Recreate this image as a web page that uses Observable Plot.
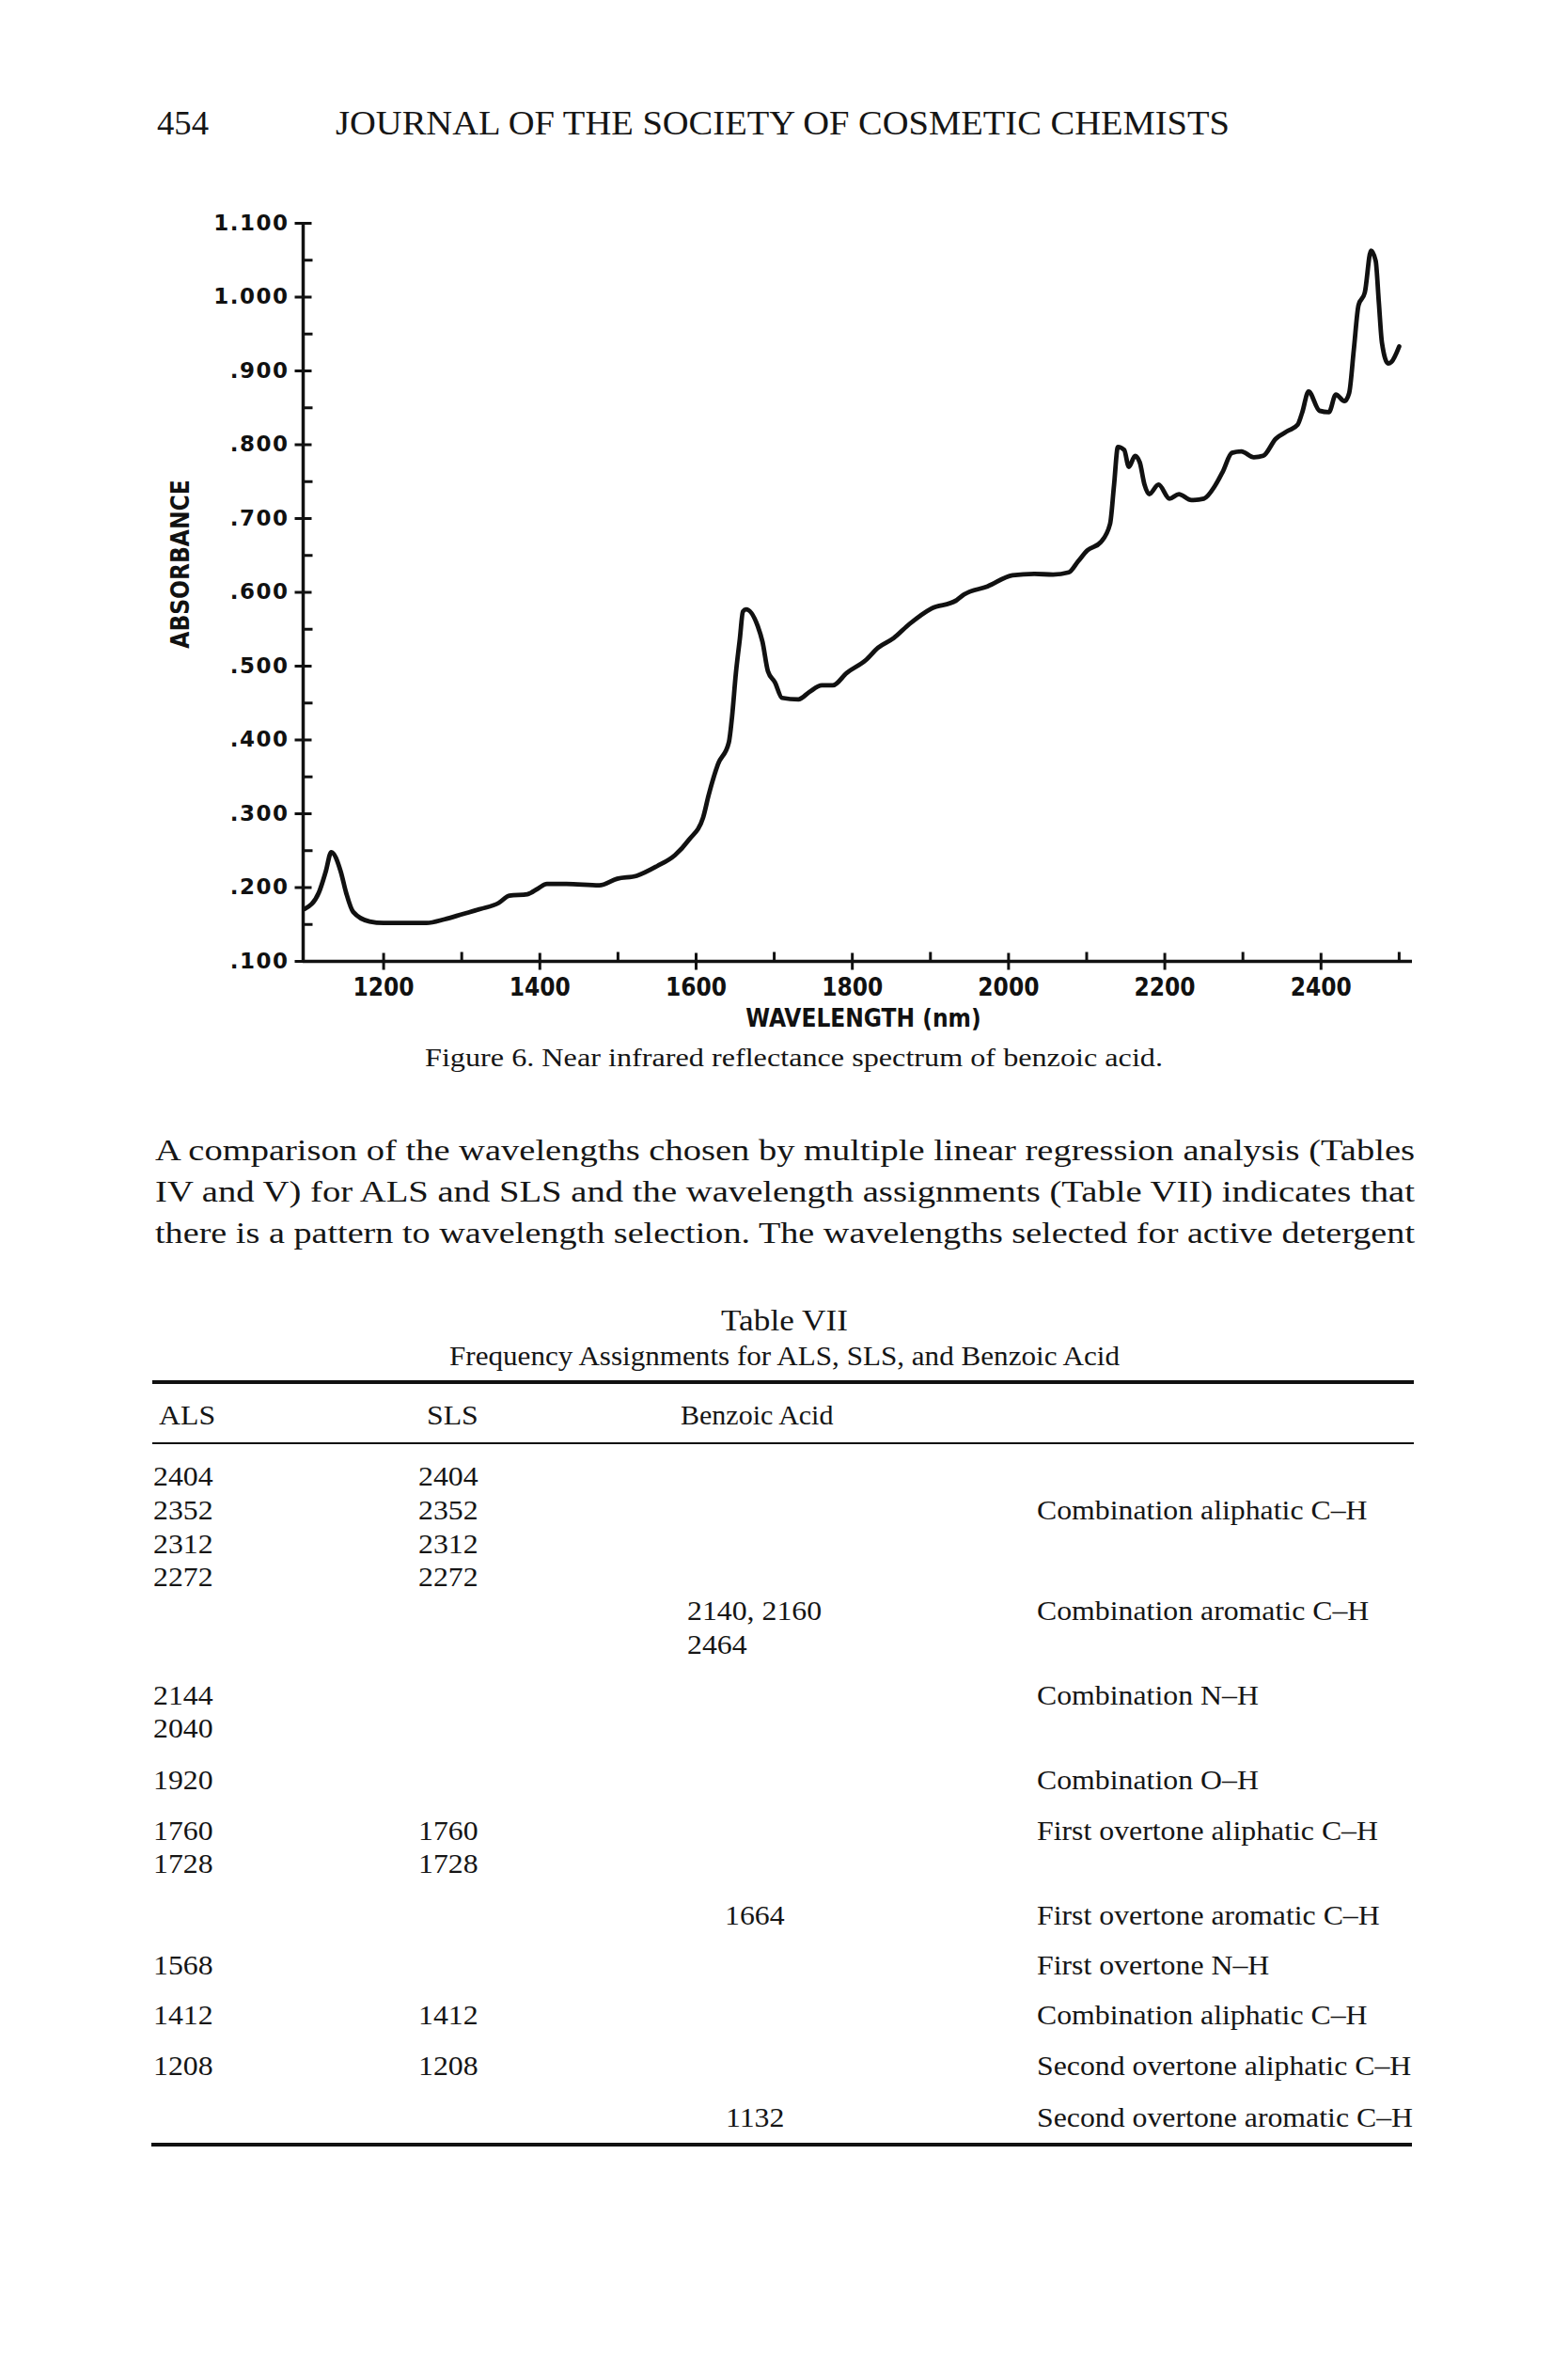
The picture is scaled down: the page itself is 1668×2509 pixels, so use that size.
<!DOCTYPE html>
<html><head><meta charset="utf-8">
<script src="https://cdn.jsdelivr.net/npm/d3@7"></script>
<script src="https://cdn.jsdelivr.net/npm/@observablehq/plot@0.6"></script>
<style>
html,body{margin:0;padding:0;background:#fff;}
#page{position:relative;width:1668px;height:2509px;overflow:hidden;background:#fff;}
.t{position:absolute;white-space:nowrap;font-family:"Liberation Serif","DejaVu Serif",serif;color:#151515;line-height:1;transform-origin:0 0;}
#chart{position:absolute;left:0;top:0;}
.rule{position:absolute;background:#111;}
</style></head><body><div id="page"><div id="chart"></div></div>
<script>
// ---------- chart data (Figure 6) ----------
const wavelength = [1099,1117,1126,1133,1145,1152,1161,1182,1200,1255,1278,1301,1324,1347,1361,1384,1398,1409,1434,1476,1499,1524,1550,1573,1591,1609,1616,1628,1642,1646,1651,1656,1660,1664,1679,1685,1692,1701,1710,1731,1745,1761,1775,1793,1817,1833,1853,1873,1901,1933,1943,1973,2005,2033,2057,2077,2089,2101,2118,2130,2135,2140,2148,2154,2162,2168,2174,2180,2192,2206,2218,2234,2250,2264,2274,2286,2298,2314,2326,2342,2358,2370,2376,2384,2398,2410,2419,2430,2436,2442,2448,2456,2464,2470,2474,2478,2486,2490,2500];
const absorbance = [0.171,0.193,0.222,0.248,0.222,0.193,0.167,0.154,0.152,0.152,0.157,0.164,0.171,0.179,0.189,0.191,0.199,0.205,0.205,0.203,0.212,0.216,0.229,0.244,0.265,0.295,0.325,0.367,0.397,0.431,0.491,0.537,0.574,0.577,0.554,0.533,0.493,0.478,0.457,0.455,0.465,0.474,0.474,0.491,0.508,0.525,0.538,0.557,0.578,0.589,0.597,0.608,0.623,0.625,0.624,0.627,0.642,0.657,0.668,0.693,0.745,0.797,0.793,0.770,0.785,0.776,0.746,0.733,0.746,0.727,0.733,0.725,0.727,0.744,0.763,0.789,0.791,0.783,0.785,0.808,0.819,0.827,0.844,0.872,0.846,0.844,0.868,0.859,0.870,0.929,0.989,1.006,1.063,1.049,0.993,0.938,0.910,0.912,0.933];
const xDomain = [1097, 2517];
const yDomain = [0.1, 1.1];
const xMajorTicks = [1200,1400,1600,1800,2000,2200,2400];
const xMinorTicks = [1300,1500,1700,1900,2100,2300,2500];
const yMajorTicks = [0.1,0.2,0.3,0.4,0.5,0.6,0.7,0.8,0.9,1.0,1.1];
const yTickLabels = [".100",".200",".300",".400",".500",".600",".700",".800",".900","1.000","1.100"];
const yMinorTicks = [0.15,0.25,0.35,0.45,0.55,0.65,0.75,0.85,0.95,1.05];
const xTitle = "WAVELENGTH (nm)";
const yTitle = "ABSORBANCE";

// ---------- page text ----------
const pageNumber = "454";
const runningHead = "JOURNAL OF THE SOCIETY OF COSMETIC CHEMISTS";
const caption = "Figure 6.  Near infrared reflectance spectrum of benzoic acid.";
const bodyLines = [
  "A comparison of the wavelengths chosen by multiple linear regression analysis (Tables",
  "IV and V) for ALS and SLS and the wavelength assignments (Table VII) indicates that",
  "there is a pattern to wavelength selection. The wavelengths selected for active detergent"
];
const tableTitle = "Table VII";
const tableSubtitle = "Frequency Assignments for ALS, SLS, and Benzoic Acid";
const tableHeaders = ["ALS","SLS","Benzoic Acid",""];
const colALS     = ["2404","2352","2312","2272","","","2144","2040","1920","1760","1728","","1568","1412","1208",""];
const colSLS     = ["2404","2352","2312","2272","","","","","","1760","1728","","","1412","1208",""];
const colBenzoic = ["","","","","2140, 2160","2464","","","","","","1664","","","","1132"];
const colAssign  = ["","Combination aliphatic C\u2013H","","","Combination aromatic C\u2013H","","Combination N\u2013H","","Combination O\u2013H","First overtone aliphatic C\u2013H","","First overtone aromatic C\u2013H","First overtone N\u2013H","Combination aliphatic C\u2013H","Second overtone aliphatic C\u2013H","Second overtone aromatic C\u2013H"];

// ---------- chart ----------
const spectrum = wavelength.map((w,i)=>({wavelength:w, absorbance:absorbance[i]}));
const tickBoth = {draw(c){c.moveTo(-9,0);c.lineTo(9,0);}};
const tickRight = {draw(c){c.moveTo(0,0);c.lineTo(10,0);}};
const tickVBoth = {draw(c){c.moveTo(0,-9);c.lineTo(0,9);}};
const tickUp = {draw(c){c.moveTo(0,0);c.lineTo(0,-10);}};
const ink = "#111";
const tickOpts = {r:5, stroke:ink, strokeWidth:3, fill:"none"};
const boldCond = {fontFamily:"DejaVu Sans Condensed, DejaVu Sans", fontWeight:"bold", fill:ink};

const chart = Plot.plot({
  width:1668, height:1100,
  marginLeft:322, marginRight:166, marginTop:237, marginBottom:78,
  x:{domain:xDomain, axis:null},
  y:{domain:yDomain, axis:null},
  style:{background:"transparent", overflow:"visible"},
  marks:[
    Plot.ruleY([yDomain[0]], {stroke:ink, strokeWidth:3.5}),
    Plot.ruleX([xDomain[0]], {stroke:ink, strokeWidth:3.5}),
    Plot.dot(xMajorTicks, {x:d=>d, y:()=>yDomain[0], symbol:tickVBoth, ...tickOpts}),
    Plot.dot(xMinorTicks, {x:d=>d, y:()=>yDomain[0], symbol:tickUp, ...tickOpts}),
    Plot.dot(yMajorTicks, {x:()=>xDomain[0], y:d=>d, symbol:tickBoth, ...tickOpts}),
    Plot.dot(yMinorTicks, {x:()=>xDomain[0], y:d=>d, symbol:tickRight, ...tickOpts}),
    Plot.text(xMajorTicks, {x:d=>d, y:()=>yDomain[0], dy:28, text:d=>String(d), fontSize:26, ...boldCond}),
    Plot.text(yMajorTicks, {x:()=>xDomain[0], y:d=>d, dx:-15, textAnchor:"end", text:(d,i)=>yTickLabels[i], fontSize:23, fontFamily:"DejaVu Sans", fontWeight:"bold", fill:ink}),
    Plot.text([xTitle], {frameAnchor:"bottom", lineAnchor:"middle", textAnchor:"middle", dx:6, dy:61, text:d=>d, fontSize:26, ...boldCond}),
    Plot.text([yTitle], {frameAnchor:"left", textAnchor:"middle", lineAnchor:"middle", dx:-130, dy:-30, rotate:-90, text:d=>d, fontSize:26, ...boldCond}),
    Plot.line(spectrum, {x:"wavelength", y:"absorbance", curve:"monotone-x", stroke:ink, strokeWidth:4.8, strokeLinejoin:"round", strokeLinecap:"round"})
  ]
});
document.getElementById("chart").appendChild(chart);
chart.querySelectorAll("text").forEach(t=>{
  if (yTickLabels.includes(t.textContent)) t.style.letterSpacing = "1.5px";
});

// ---------- page text helpers ----------
const page = document.getElementById("page");
function put(txt, o){
  const d = document.createElement("div");
  d.className = "t";
  d.textContent = txt;
  const fs = o.fs;
  d.style.fontSize = fs + "px";
  d.style.top = (o.base - 0.8375*fs) + "px";
  page.appendChild(d);
  const w = d.getBoundingClientRect().width;
  let s = 1;
  if (o.width) s = o.width / w;
  else if (o.scale) s = o.scale;
  const wd = w * s;
  let left = o.x;
  if (o.anchor === "middle") left = o.x - wd/2;
  d.style.left = left + "px";
  d.style.transform = `scaleX(${s})`;
  return d;
}
function rule(x1, x2, y, h){
  const r = document.createElement("div");
  r.className = "rule";
  r.style.left = x1 + "px"; r.style.width = (x2-x1) + "px";
  r.style.top = (y - h/2) + "px"; r.style.height = h + "px";
  page.appendChild(r);
}

// running head
put(pageNumber, {x:167, base:143, fs:35, width:55});
put(runningHead, {x:357, base:143, fs:35, width:951});
// caption
put(caption, {x:452, base:1134, fs:28, width:785});
// body
const bodyBase = [1234, 1278, 1322];
bodyLines.forEach((l,i)=>put(l, {x:165, base:bodyBase[i], fs:32, width:1340}));
// table
put(tableTitle, {x:834.5, base:1415, fs:31, anchor:"middle", width:135});
put(tableSubtitle, {x:834.5, base:1452, fs:30, anchor:"middle", width:713});
rule(162, 1504, 1470, 4);
rule(162, 1504, 1535, 2.5);
rule(161, 1502, 2281, 4);
const tScale = 1.06;
const fsT = 30;
put(tableHeaders[0], {x:169, base:1515, fs:fsT, scale:tScale});
put(tableHeaders[1], {x:454, base:1515, fs:fsT, scale:tScale});
put(tableHeaders[2], {x:724, base:1515, fs:fsT, scale:1.0});
const rowBase = [1580,1616,1652,1687,1723,1759,1813,1848,1903,1957,1992,2047,2100,2153,2207,2262];
let prevBenzLeft = null;
rowBase.forEach((b,i)=>{
  if (colALS[i]) put(colALS[i], {x:163, base:b, fs:fsT, scale:tScale});
  if (colSLS[i]) put(colSLS[i], {x:445, base:b, fs:fsT, scale:tScale});
  if (colBenzoic[i]) {
    let d;
    if (prevBenzLeft !== null) d = put(colBenzoic[i], {x:prevBenzLeft, base:b, fs:fsT, scale:tScale});
    else d = put(colBenzoic[i], {x:803, base:b, fs:fsT, scale:tScale, anchor:"middle"});
    prevBenzLeft = parseFloat(d.style.left);
  } else prevBenzLeft = null;
  if (colAssign[i]) put(colAssign[i], {x:1103, base:b, fs:fsT, scale:tScale});
});
</script></body></html>
